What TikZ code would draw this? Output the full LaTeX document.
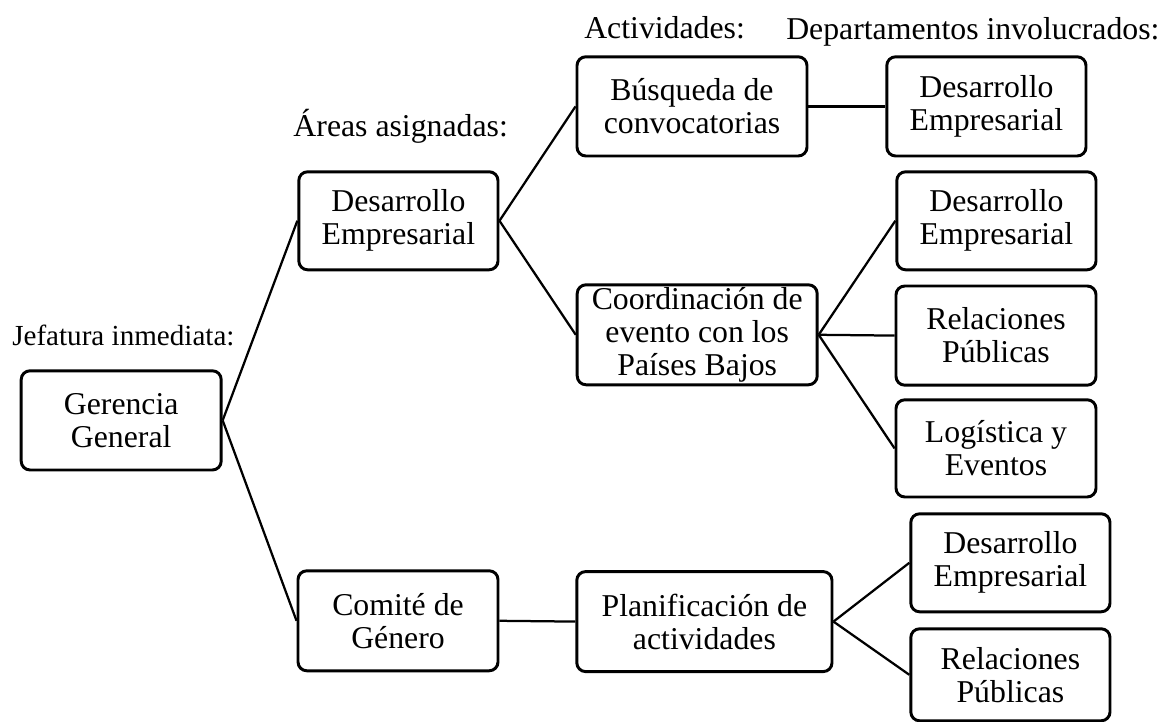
\documentclass[tikz,border=0pt]{standalone}
\usepackage{fontspec}
\setmainfont{Liberation Serif}

\begin{document}
\begin{tikzpicture}[
  font=\fontsize{22.6}{23.5}\selectfont,
  caja/.style={draw, line width=2.1pt, rounded corners=0.22cm, align=center, inner sep=0pt, minimum width=5cm, minimum height=2.48cm},
  rama/.style={line width=1.6pt},
  titulo/.style={anchor=base west, inner sep=0pt}]
\useasboundingbox (0,0) rectangle (29.075,18.05);
% column titles
\path node[titulo, font=\fontsize{20.7}{23.5}\selectfont] (tjef) at (0.3,9.4) {Jefatura inmediata:};
\path node[titulo] (tare) at (7.33,14.63) {\'Areas asignadas:};
\path node[titulo] (tact) at (14.6,17.08) {Actividades:};
\path node[titulo] (tdep) at (19.65,17.05) {Departamentos involucrados:};
% boxes
\node[caja] (gg) at (3.03,7.54) {Gerencia\\General};
\node[caja, minimum width=4.98cm, minimum height=2.45cm] (area1) at (9.96,12.53) {Desarrollo\\Empresarial};
\node[caja, minimum height=2.5cm] (area2) at (9.95,2.53) {Comit\'e de\\G\'enero};
\node[caja, minimum width=5.75cm] (act1) at (17.30,15.39) {B\'usqueda de\\convocatorias};
\node[caja, minimum width=6cm, minimum height=2.5cm] (act2) at (17.43,9.68) {Coordinaci\'on de\\evento con los\\Pa\'ises Bajos};
\node[caja, minimum width=6.38cm, minimum height=2.5cm] (act3) at (17.61,2.51) {Planificaci\'on de\\actividades};
\node[caja, minimum width=4.98cm] (dep1) at (24.66,15.39) {Desarrollo\\Empresarial};
\node[caja, minimum width=4.98cm, minimum height=2.45cm] (dep2) at (24.91,12.53) {Desarrollo\\Empresarial};
\node[caja] (dep3) at (24.90,9.66) {Relaciones\\P\'ublicas};
\node[caja, minimum height=2.43cm] (dep4) at (24.90,6.84) {Log\'istica y\\Eventos};
\node[caja, minimum width=4.98cm, minimum height=2.45cm] (dep5) at (25.26,3.98) {Desarrollo\\Empresarial};
\node[caja, minimum width=4.98cm, minimum height=2.3cm] (dep6) at (25.26,1.18) {Relaciones\\P\'ublicas};
% branches
\draw[rama] (gg.east) -- (area1.west);
\draw[rama] (gg.east) -- (area2.west);
\draw[rama] (area1.east) -- (act1.west);
\draw[rama] (area1.east) -- (act2.west);
\draw[rama] (area2.east) -- (act3.west);
\draw[rama] (act1.east) -- (dep1.west);
\draw[rama] (act2.east) -- (dep2.west);
\draw[rama] (act2.east) -- (dep3.west);
\draw[rama] (act2.east) -- (dep4.west);
\draw[rama] (act3.east) -- (dep5.west);
\draw[rama] (act3.east) -- (dep6.west);
\end{tikzpicture}
\end{document}
